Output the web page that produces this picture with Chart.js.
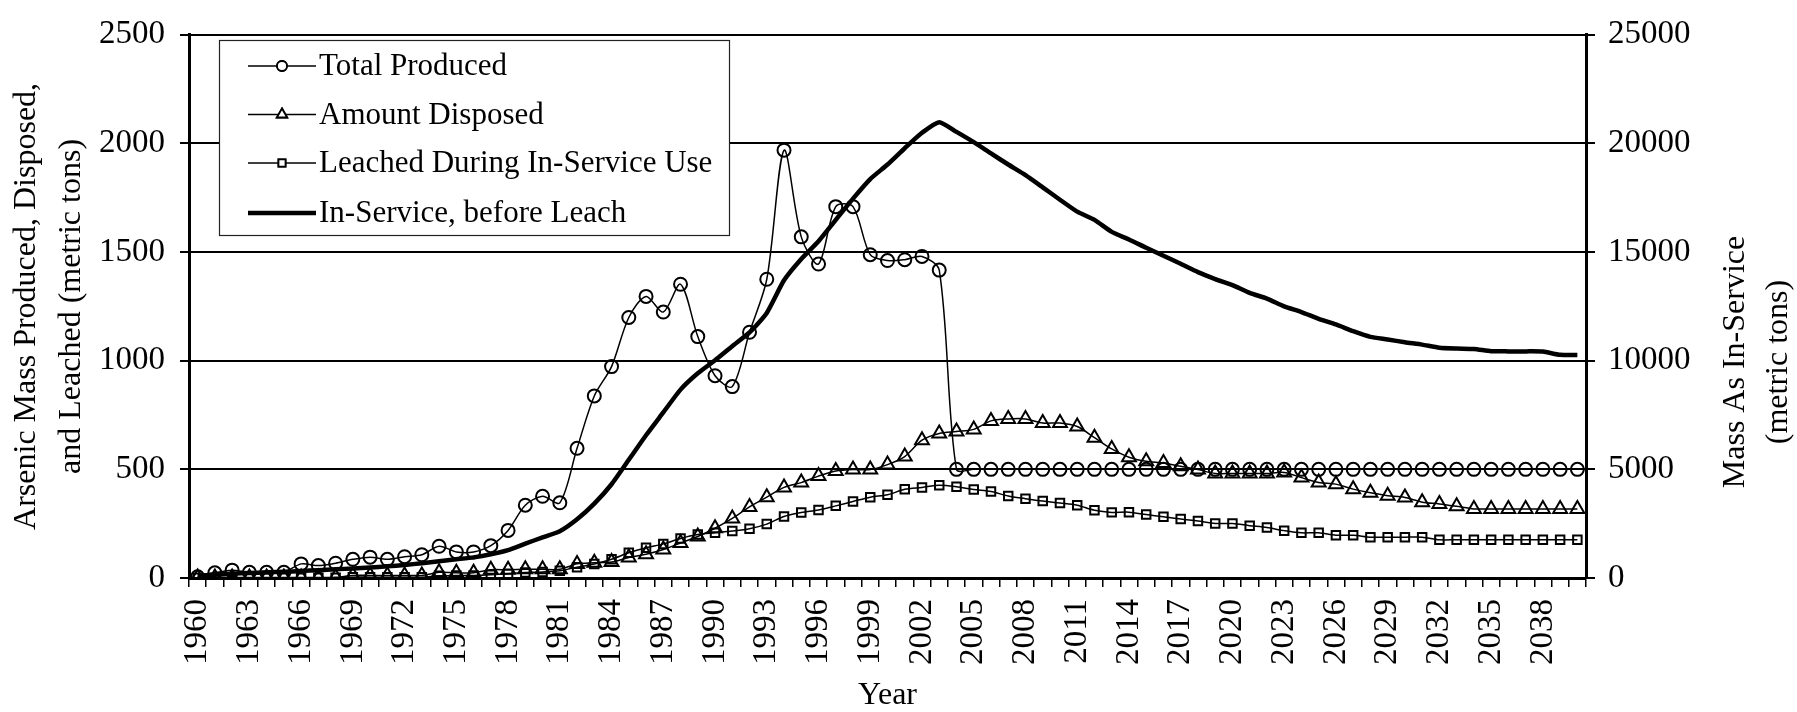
<!DOCTYPE html>
<html>
<head>
<meta charset="utf-8">
<script src="https://cdn.jsdelivr.net/npm/chart.js@4.4.1/dist/chart.umd.min.js"></script>
<style>
  html, body { margin: 0; padding: 0; background: #fff; }
</style>
</head>
<body>
<canvas id="arsenicChart" width="1797" height="712"></canvas>
<script>
const years = [
  '1960','1961','1962','1963','1964','1965','1966','1967','1968','1969',
  '1970','1971','1972','1973','1974','1975','1976','1977','1978','1979',
  '1980','1981','1982','1983','1984','1985','1986','1987','1988','1989',
  '1990','1991','1992','1993','1994','1995','1996','1997','1998','1999',
  '2000','2001','2002','2003','2004','2005','2006','2007','2008','2009',
  '2010','2011','2012','2013','2014','2015','2016','2017','2018','2019',
  '2020','2021','2022','2023','2024','2025','2026','2027','2028','2029',
  '2030','2031','2032','2033','2034','2035','2036','2037','2038','2039',
  '2040'
];

// left axis (metric tons)
const totalProduced = [
  6, 24, 36, 26, 26, 26, 65, 57, 68, 86,
  96, 86, 98, 107, 146, 120, 120, 149, 219, 335,
  376, 346, 597, 838, 973, 1199, 1296, 1224, 1352, 1111,
  931, 881, 1131, 1375, 1969, 1570, 1445, 1709, 1709, 1488,
  1461, 1465, 1480, 1417, 500, 500, 500, 500, 500, 500,
  500, 500, 500, 500, 500, 500, 500, 500, 500, 500,
  500, 500, 500, 500, 500, 500, 500, 500, 500, 500,
  500, 500, 500, 500, 500, 500, 500, 500, 500, 500,
  500
];
const amountDisposed = [
  2, 2, 2, 2, 2, 2, 2, 2, 3, 12,
  12, 12, 12, 12, 26, 24, 24, 38, 38, 40,
  40, 40, 65, 70, 74, 94, 109, 131, 161, 191,
  229, 274, 327, 372, 417, 439, 469, 492, 499, 499,
  522, 559, 634, 665, 674, 684, 723, 732, 732, 713,
  713, 697, 646, 594, 556, 537, 529, 514, 499, 481,
  481, 481, 481, 486, 462, 440, 432, 409, 392, 379,
  371, 349, 341, 330, 318, 318, 318, 318, 318, 318,
  318
];
const leachedInService = [
  1, 1, 1, 1, 1, 1, 1, 1, 1, 4,
  4, 4, 4, 4, 10, 12, 12, 15, 20, 25,
  28, 33, 50, 64, 86, 116, 139, 157, 182, 200,
  208, 216, 227, 248, 283, 301, 313, 332, 352, 372,
  383, 408, 417, 427, 420, 407, 398, 377, 365, 354,
  345, 335, 312, 302, 303, 292, 282, 271, 262, 251,
  251, 241, 232, 218, 208, 208, 197, 197, 188, 188,
  188, 188, 176, 176, 176, 176, 176, 176, 176, 176,
  176
];
// right axis (metric tons)
const inServiceBeforeLeach = [
  100, 150, 200, 230, 260, 290, 320, 360, 400, 440,
  480, 540, 600, 680, 770, 860, 950, 1090, 1280, 1580,
  1870, 2150, 2700, 3420, 4315, 5440, 6570, 7620, 8670, 9420,
  10020, 10670, 11300, 12200, 13700, 14680, 15500, 16480, 17460, 18360,
  19030, 19780, 20490, 20980, 20530, 20060, 19540, 19030, 18540, 17980,
  17410, 16860, 16480, 15930, 15580, 15200, 14830, 14460, 14080, 13760,
  13480, 13120, 12860, 12500, 12240, 11930, 11670, 11360, 11100, 10980,
  10850, 10740, 10600, 10560, 10540, 10440, 10430, 10430, 10420, 10270,
  10260
];

const leftTicks = [0, 500, 1000, 1500, 2000, 2500];
const rightTicks = [0, 5000, 10000, 15000, 20000, 25000];

const serif = 'Liberation Serif, "Times New Roman", serif';
const tickFont = { family: serif, size: 33 };

// legend box drawn inside the plot, top left
const boxLegend = {
  id: 'boxLegend',
  afterDraw(chart) {
    const c = chart.ctx;
    const x0 = 219, y0 = 40, w = 510, h = 195;
    c.save();
    c.fillStyle = '#fff';
    c.fillRect(x0, y0, w, h);
    c.strokeStyle = '#222';
    c.lineWidth = 1.2;
    c.strokeRect(x0 + 0.5, y0 + 0.5, w, h);
    const rows = [66, 114.5, 163, 213];
    chart.data.datasets.forEach((ds, i) => {
      const y = rows[i];
      c.strokeStyle = '#000';
      c.lineWidth = ds.borderWidth;
      c.beginPath();
      c.moveTo(248, y);
      c.lineTo(316, y);
      c.stroke();
      if (ds.pointRadius > 0) {
        c.fillStyle = '#fff';
        c.lineWidth = 1.8;
        Chart.helpers.drawPoint(c, {
          pointStyle: ds.pointStyle,
          radius: ds.legendRadius,
          rotation: 0,
          borderWidth: 1.8
        }, 282, y);
        c.fill();
        c.stroke();
      }
      c.fillStyle = '#000';
      c.font = '31px ' + serif;
      c.textAlign = 'left';
      c.textBaseline = 'middle';
      c.fillText(ds.label, 319, y + 1);
    });
    c.restore();
  }
};

// secondary axis title, reading bottom to top like the left one
const rightTitle = {
  id: 'rightTitle',
  afterDraw(chart) {
    const c = chart.ctx;
    c.save();
    c.fillStyle = '#000';
    c.font = '32px ' + serif;
    c.textAlign = 'center';
    c.textBaseline = 'middle';
    [['Mass As In-Service', 1736], ['(metric tons)', 1779]].forEach(([t, x]) => {
      c.save();
      c.translate(x, 362);
      c.rotate(-Math.PI / 2);
      c.fillText(t, 0, 0);
      c.restore();
    });
    c.restore();
  }
};

const plainNumber = v => String(v);

const config = {
  type: 'line',
  data: {
    labels: years,
    datasets: [{
      label: 'Total Produced',
      data: totalProduced,
      yAxisID: 'y',
      borderColor: '#000',
      borderWidth: 1.5,
      pointStyle: 'circle',
      pointRadius: 6.5,
      legendRadius: 5,
      pointBorderWidth: 2,
      pointBorderColor: '#000',
      pointBackgroundColor: 'rgba(0,0,0,0)',
      tension: 0.3
    }, {
      label: 'Amount Disposed',
      data: amountDisposed,
      yAxisID: 'y',
      borderColor: '#000',
      borderWidth: 1.5,
      pointStyle: 'triangle',
      pointRadius: 8,
      legendRadius: 6,
      pointBorderWidth: 2,
      pointBorderColor: '#000',
      pointBackgroundColor: 'rgba(0,0,0,0)',
      tension: 0.3
    }, {
      label: 'Leached During In-Service Use',
      data: leachedInService,
      yAxisID: 'y',
      borderColor: '#000',
      borderWidth: 1.5,
      pointStyle: 'rect',
      pointRadius: 6,
      legendRadius: 5,
      pointBorderWidth: 2,
      pointBorderColor: '#000',
      pointBackgroundColor: 'rgba(0,0,0,0)',
      tension: 0.3
    }, {
      label: 'In-Service, before Leach',
      data: inServiceBeforeLeach,
      yAxisID: 'y2',
      borderColor: '#000',
      borderWidth: 4.5,
      pointRadius: 0,
      legendRadius: 0,
      tension: 0.2
    }]
  },
  options: {
    responsive: false,
    animation: false,
    layout: { padding: { top: 24, right: 0, bottom: 0, left: 0 } },
    plugins: {
      legend: { display: false },
      tooltip: { enabled: false }
    },
    scales: {
      x: {
        offset: true,
        grid: {
          offset: true,
          drawOnChartArea: false,
          drawTicks: true,
          tickLength: 9,
          color: '#000',
          lineWidth: 1.5
        },
        border: { display: true, color: '#000', width: 3 },
        ticks: {
          autoSkip: false,
          minRotation: 90,
          maxRotation: 90,
          padding: 12,
          color: '#000',
          font: tickFont,
          callback: function (v, i) { return i % 3 === 0 ? this.getLabelForValue(v) : ''; }
        },
        title: {
          display: true,
          text: 'Year',
          color: '#000',
          font: { family: serif, size: 32, lineHeight: 1 },
          padding: { top: 0, bottom: 0 }
        },
        afterFit(s) { s.height = 134; }
      },
      y: {
        position: 'left',
        min: 0,
        max: 2500,
        afterBuildTicks(s) { s.ticks = leftTicks.map(v => ({ value: v })); },
        grid: { color: '#000', lineWidth: 2, tickLength: 9 },
        border: { display: true, color: '#000', width: 3 },
        ticks: { color: '#000', font: tickFont, padding: 15, callback: plainNumber },
        title: {
          display: true,
          text: ['Arsenic Mass Produced, Disposed,', 'and Leached (metric tons)'],
          color: '#000',
          font: { family: serif, size: 32, lineHeight: 1.4 },
          padding: { top: 4, bottom: 0 }
        },
        afterFit(s) { s.width = 189; }
      },
      y2: {
        position: 'right',
        min: 0,
        max: 25000,
        afterBuildTicks(s) { s.ticks = rightTicks.map(v => ({ value: v })); },
        grid: { drawOnChartArea: false, color: '#000', lineWidth: 2, tickLength: 9 },
        border: { display: true, color: '#000', width: 3 },
        ticks: { color: '#000', font: tickFont, padding: 13, callback: plainNumber },
        afterFit(s) { s.width = 211; }
      }
    }
  },
  plugins: [boxLegend, rightTitle]
};

const arsenicChart = new Chart(document.getElementById('arsenicChart'), config);
</script>
</body>
</html>
